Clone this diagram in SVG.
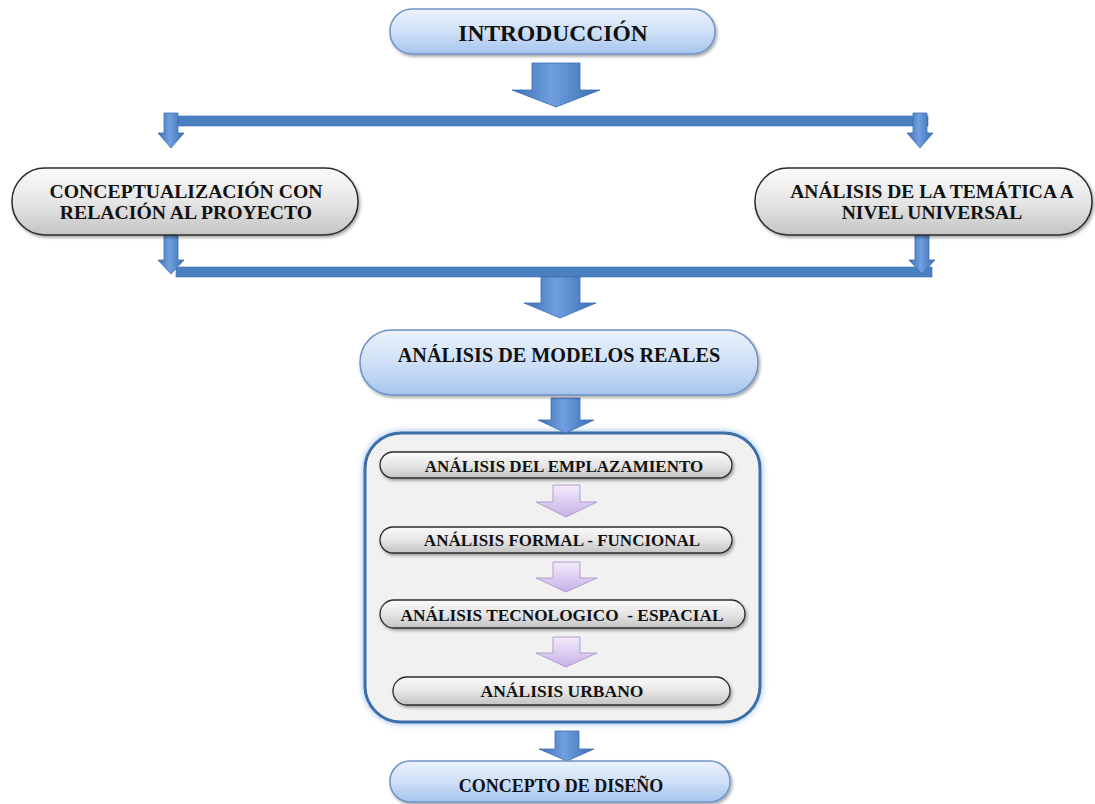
<svg xmlns="http://www.w3.org/2000/svg" width="1095" height="804" viewBox="0 0 1095 804">
<style>
text{font-family:'Liberation Serif','Times New Roman','DejaVu Serif',serif;font-weight:bold;fill:#111;text-anchor:middle}
.blue{fill:url(#gBlue);stroke:#6f93c6;stroke-width:1.5}
.gray{fill:url(#gGray);stroke:#2b2b2b;stroke-width:1.5}
.grayS{fill:url(#gGray);stroke:#2b2b2b;stroke-width:1.3}
.arr{fill:url(#gArr);stroke:#3f6fae;stroke-width:0.8}
.parr{fill:url(#gPur);stroke:#a48cc8;stroke-width:0.8}
.bar{fill:#4a7fc0;stroke:#3b6eac;stroke-width:0.6}
</style>
<defs>
<linearGradient id="gBlue" x1="0" y1="0" x2="0" y2="1">
<stop offset="0" stop-color="#eaf2fc"/><stop offset="0.5" stop-color="#cfe0f7"/><stop offset="1" stop-color="#a6c4ee"/>
</linearGradient>
<linearGradient id="gGray" x1="0" y1="0" x2="0" y2="1">
<stop offset="0" stop-color="#fbfbfb"/><stop offset="0.5" stop-color="#e6e6e6"/><stop offset="1" stop-color="#c4c4c4"/>
</linearGradient>
<linearGradient id="gArr" x1="0" y1="0" x2="1" y2="0">
<stop offset="0" stop-color="#3c6fb3"/><stop offset="0.45" stop-color="#6f9fe0"/><stop offset="1" stop-color="#3a6cb0"/>
</linearGradient>
<linearGradient id="gPur" x1="0" y1="0" x2="0" y2="1">
<stop offset="0" stop-color="#f3ecfb"/><stop offset="1" stop-color="#c6b1e6"/>
</linearGradient>
<filter id="sh" x="-10%" y="-20%" width="120%" height="150%">
<feDropShadow dx="1.5" dy="2" stdDeviation="1.5" flood-color="#000" flood-opacity="0.35"/>
</filter>
<filter id="glow" x="-10%" y="-10%" width="120%" height="120%">
<feDropShadow dx="0" dy="0" stdDeviation="3" flood-color="#7fb0ea" flood-opacity="0.9"/>
</filter>
</defs>

<g id="n-container">
<rect x="365" y="433" width="395" height="289" rx="36" fill="#f1f1f1" stroke="#3d6ea8" stroke-width="3" filter="url(#glow)"/>
</g>

<g id="connectors">
<rect class="bar" x="176" y="116" width="752" height="10"/>
<rect class="bar" x="176" y="267" width="756" height="10"/>
<path class="arr" d="M532,63 H580 V90 H600 L556,107 L512,90 H532 Z"/>
<path class="arr" d="M164,113 H178 V133 H184 L171,148 L158,133 H164 Z"/>
<path class="arr" d="M913,113 H927 V133 H933 L920,148 L907,133 H913 Z"/>
<path class="arr" d="M164,235 H178 V260 H184 L171,274 L158,260 H164 Z"/>
<path class="arr" d="M915,235 H929 V260 H935 L922,274 L909,260 H915 Z"/>
<path class="arr" d="M541,277 H580 V303 H596 L560,318 L524,303 H541 Z"/>
<path class="arr" d="M551,398 H580 V420 H594 L566,433 L538,420 H551 Z"/>
<path class="arr" d="M555,731 H579 V749 H594 L567,761 L539,749 H555 Z"/>
<path class="parr" d="M553,485 H580 V502 H597 L566,517 L536,502 H553 Z"/>
<path class="parr" d="M553,562 H580 V578 H597 L566,592 L536,578 H553 Z"/>
<path class="parr" d="M553,637 H580 V653 H597 L566,667 L536,653 H553 Z"/>
</g>

<g id="n-intro">
<rect class="blue" x="390" y="9" width="325" height="45" rx="22" filter="url(#sh)"/>
<text x="553" y="41" font-size="23.5">INTRODUCCIÓN</text>
</g>

<g id="n-concept">
<rect class="gray" x="12" y="168" width="346" height="67" rx="33" filter="url(#sh)"/>
<text x="186" y="198" font-size="19.7">CONCEPTUALIZACIÓN CON</text>
<text x="186" y="219" font-size="19.7">RELACIÓN AL PROYECTO</text>
</g>

<g id="n-tematica">
<rect class="gray" x="755" y="168" width="337" height="67" rx="33" filter="url(#sh)"/>
<text x="932" y="198" font-size="19.5">ANÁLISIS DE LA TEMÁTICA A</text>
<text x="932" y="219" font-size="19.5">NIVEL UNIVERSAL</text>
</g>

<g id="n-modelos">
<rect class="blue" x="360" y="330" width="398" height="65" rx="32" filter="url(#sh)"/>
<text x="559" y="362" font-size="20.2">ANÁLISIS DE MODELOS REALES</text>
</g>

<g id="n-emplazamiento">
<rect class="grayS" x="380" y="452" width="352" height="26" rx="13" filter="url(#sh)"/>
<text x="564" y="472" font-size="17">ANÁLISIS DEL EMPLAZAMIENTO</text>
</g>

<g id="n-formal">
<rect class="grayS" x="380" y="527" width="352" height="26" rx="13" filter="url(#sh)"/>
<text x="562" y="546" font-size="17">ANÁLISIS FORMAL - FUNCIONAL</text>
</g>

<g id="n-tecnologico">
<rect class="grayS" x="380" y="600" width="365" height="28" rx="14" filter="url(#sh)"/>
<text x="562" y="621" font-size="17.3" xml:space="preserve">ANÁLISIS TECNOLOGICO  - ESPACIAL</text>
</g>

<g id="n-urbano">
<rect class="grayS" x="393" y="677" width="337" height="28" rx="14" filter="url(#sh)"/>
<text x="562" y="697" font-size="17.5">ANÁLISIS URBANO</text>
</g>

<g id="n-diseno">
<rect class="blue" x="390" y="761" width="340" height="41" rx="20" filter="url(#sh)"/>
<text x="561" y="792" font-size="18">CONCEPTO DE DISEÑO</text>
</g>
</svg>
